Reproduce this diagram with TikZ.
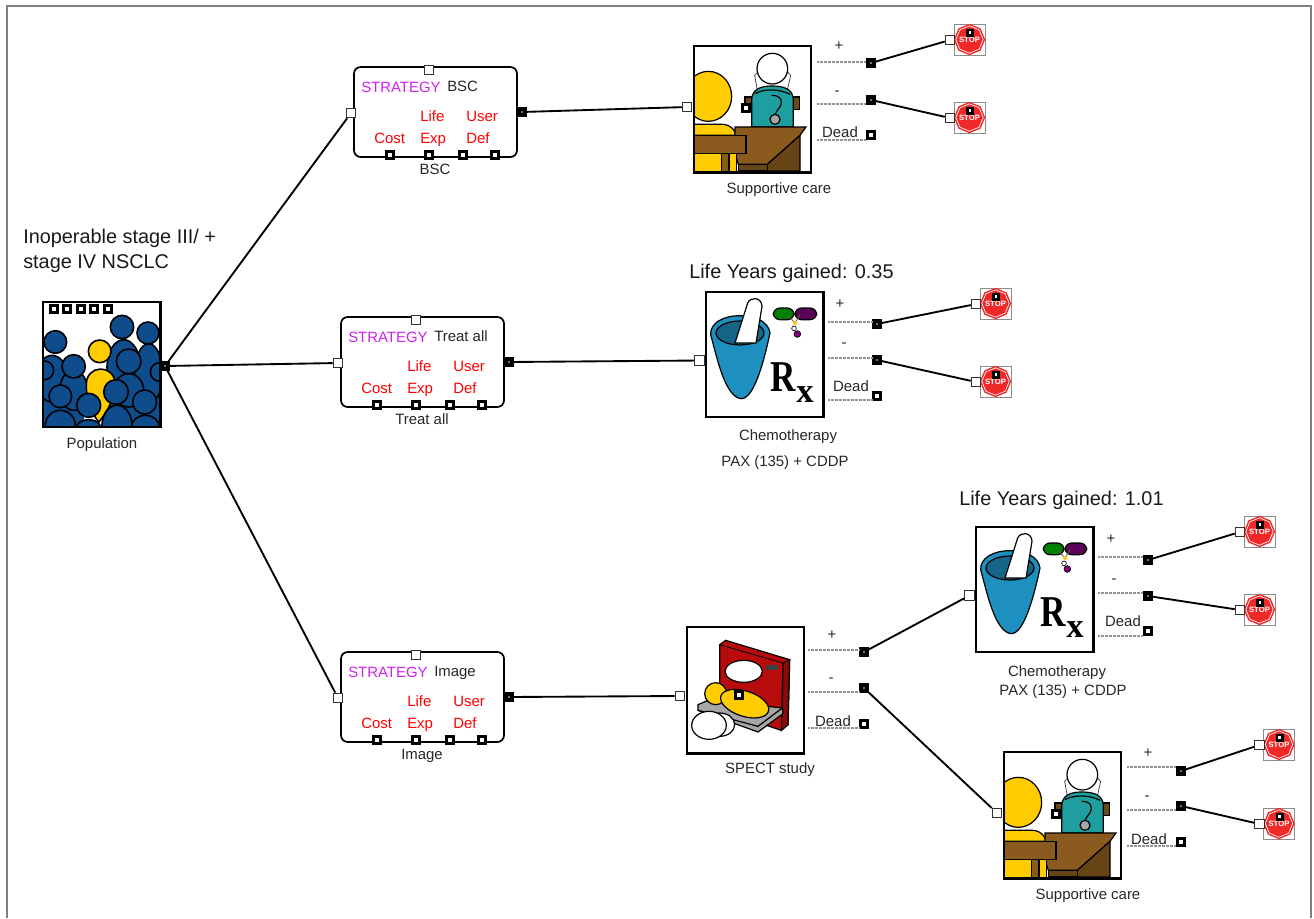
\documentclass[tikz,border=0pt]{standalone}
\usepackage{fontspec}
\setmainfont{Liberation Sans}
\newfontfamily\rxfont{Liberation Serif}
\usetikzlibrary{shapes.geometric}
\definecolor{popblue}{HTML}{0F4C8C}
\definecolor{ygold}{HTML}{FFCC00}
\definecolor{dbrown}{HTML}{8A5A1E}
\definecolor{dteal}{HTML}{1E9E9E}
\definecolor{cblue}{HTML}{1E90C0}
\definecolor{sred}{HTML}{F02828}
\definecolor{mag}{HTML}{D020F0}
\definecolor{dred}{HTML}{B80C0C}
\tikzset{
  x=0.75pt,y=-0.75pt,
  port/.style={rectangle,inner sep=0pt,anchor=center},
  pw/.style={port,minimum size=7pt,draw=black!80,line width=.9pt,fill=white},
  pb/.style={port,minimum size=5.2pt,draw=black,line width=2.2pt,fill=white},
  pk/.style={port,minimum size=4.6pt,draw=black,line width=2.6pt,fill=black!55},
  link/.style={draw=black,line width=1.4pt},
  txt/.style={inner sep=0pt,text=black!85,text height=8pt,text depth=2pt,font=\fontsize{11.2pt}{13pt}\selectfont},
  rtxt/.style={inner sep=0pt,anchor=west,text=red,text height=8pt,text depth=2pt,font=\fontsize{11.2pt}{13pt}\selectfont},
  big/.style={inner sep=0pt,anchor=west,text=black!90,text height=11pt,text depth=3pt,font=\fontsize{14.9pt}{16pt}\selectfont},
  stem/.style={draw=black!42,line width=1.3pt,dash pattern=on .75pt off .25pt},
  ic/.style={draw=black,line width=.9pt},
  icb/.style={draw=black,line width=1.2pt},
  zoomed/.style={x=.25pt,y=-.25pt},
  frm/.style={line width=2.2pt},
  pics/strat/.style 2 args={code={
    \draw[line width=1.3pt,rounded corners=5pt] (0,0) rectangle (163,90);
    \node[pw] (-top) at (75,3) {};
    \node[pw] (-in) at (-3,46) {};
    \node[pk] (-out) at (168,45) {};
    \node[pb] (-b1) at (36,88) {};
    \node[pb] (-b2) at (75,88) {};
    \node[pb] (-b3) at (109,88) {};
    \node[pb] (-b4) at (141,88) {};
    \node[rtxt,text=mag] (-s) at (7,21) {STRATEGY};
    \node[txt,anchor=west] (-n) at (93,20) {#1};
    \node[rtxt] (-l) at (66,50) {Life};
    \node[rtxt] (-u) at (112,50) {User};
    \node[rtxt] (-c) at (20,72) {Cost};
    \node[rtxt] (-e) at (66,72) {Exp};
    \node[rtxt] (-d) at (112,72) {Def};
    \node[txt] (-lab) at (81,103) {#2};
  }},
  pics/stopsign/.style={code={
    \draw[black!45,fill=white,line width=.6pt] (0,0) rectangle (31,31);
    \node[regular polygon,regular polygon sides=8,shape border rotate=22.5,fill=sred,inner sep=0pt,minimum size=23.5pt] (-oct) at (15.5,15.5) {};
    \node[regular polygon,regular polygon sides=8,shape border rotate=22.5,draw=white,line width=.5pt,inner sep=0pt,minimum size=20.5pt] (-ring) at (15.5,15.5) {};
    \node[inner sep=0pt,text=white,font=\bfseries\fontsize{5.8pt}{6pt}\selectfont] (-t) at (15.5,15.5) {STOP};
    \node[port,minimum size=4pt,draw=black,line width=2pt,fill=white] (-p) at (16,8.5) {};
    \node[pw] (-in) at (-4,16) {};
  }},
  pics/doctor/.style={code={
    \begin{scope}[shift={(-14,-25.67)},zoomed]
      \begin{scope}
      \clip (42,77) rectangle (393,457);
      \draw[ic,fill=ygold] (85,228) ellipse[x radius=70,y radius=75];
      \draw[ic,fill=ygold] (42,312) -- (130,312) .. controls (155,315) and (165,330) .. (168,345) -- (42,345) -- cycle;
      \end{scope}
      \draw[black!70,line width=.6pt] (232,210) -- (224,165) -- (238,150) (322,210) -- (332,165) -- (318,150);
      \draw[ic,fill=white] (277,145) circle[radius=46];
      \draw[ic,fill=dbrown!80!black] (195,230) rectangle (218,272) (338,230) rectangle (358,268);
      \draw[ic,fill=dteal] (215,320) -- (215,240) .. controls (215,205) and (245,197) .. (275,197) .. controls (310,197) and (340,205) .. (340,240) -- (340,320) -- cycle;
      \draw[ic] (225,220) .. controls (250,205) and (300,205) .. (330,222);
      \draw[ic] (275,225) .. controls (305,225) and (310,245) .. (298,262) .. controls (288,275) and (285,280) .. (285,285);
      \draw[ic,fill=black!35] (285,297) circle[radius=15];
      \draw[ic,fill=dbrown] (165,320) -- (378,320) -- (360,345) -- (262,432) -- (175,432) -- (165,400) -- cycle;
      \draw[ic,fill=dbrown!75!black] (262,432) -- (360,345) -- (360,452) -- (262,452) -- cycle;
      \draw[ic,fill=dbrown!75!black] (175,432) rectangle (262,452);
      \fill[ygold] (44,400) rectangle (170,455);
      \draw[ic,fill=dbrown] (125,400) rectangle (147,455);
      \draw[ic] (170,400) -- (170,455);
      \draw[ic,fill=dbrown] (42,345) rectangle (198,400);
      \draw[frm] (42,77) rectangle (393,457);
      \node[pb] (-inner) at (198,262) {};
    \end{scope}
    \node[pw] (-in) at (-7,61) {};
  }},
  pics/chemo/.style={code={
    \begin{scope}[shift={(-26,-12.33)},zoomed]
      \draw[ic,fill=cblue] (92,165) .. controls (110,230) and (135,355) .. (185,357) .. controls (225,355) and (255,230) .. (270,160) .. controls (265,125) and (225,108) .. (180,108) .. controls (130,108) and (90,130) .. (92,165) -- cycle;
      \draw[ic,fill=cblue!70!black] (180,160) ellipse[x radius=72,y radius=36];
      \draw[ic,fill=white] (165,190) -- (203,70) .. controls (212,50) and (245,52) .. (246,80) -- (228,190) -- cycle;
      \draw[ic,fill=green!50!black,rounded corners=5pt] (280,85) rectangle (342,120);
      \draw[ic,fill=violet!70!black,rounded corners=5pt] (345,85) rectangle (410,120);
      \draw[black!70!yellow,line width=.6pt] (322,105) -- (345,130) -- (360,105);
      \fill[ygold] (345,130) circle[radius=6];
      \draw[black,fill=white,line width=.5pt] (342,146) circle[radius=7];
      \draw[black,fill=violet,line width=.5pt] (352,163) circle[radius=10];
      \node[inner sep=0pt,anchor=base west,font=\rxfont\bfseries\fontsize{33pt}{34pt}\selectfont] (-rx) at (272,335) {\scalebox{.8}[1]{R}\raisebox{-8pt}{\fontsize{26pt}{26pt}\selectfont x}};
      \draw[frm] (78,37) rectangle (430,412);
    \end{scope}
    \node[pw] (-in) at (-6.5,68.5) {};
  }},
  pics/spect/.style={code={
    \begin{scope}[shift={(-17.33,-17.33)},zoomed]
      \draw[ic,fill=dred] (150,105) -- (168,92) -- (360,150) -- (355,345) -- (335,362) -- (150,300) -- cycle;
      \draw[ic,fill=dred!75!black] (340,160) -- (360,150) -- (355,345) -- (335,362) -- cycle;
      \draw[black,line width=.6pt] (150,105) -- (340,160);
      \fill[black!75] (290,165) rectangle (325,182);
      \draw[ic,fill=white] (222,185) ellipse[x radius=56,y radius=33];
      \draw[ic,fill=black!35] (85,285) -- (120,270) -- (338,295) -- (340,312) -- (265,367) -- (85,302) -- cycle;
      \draw[ic] (85,302) -- (265,350) -- (338,295);
      \draw[ic,fill=ygold] (138,252) circle[radius=33];
      \draw[ic,fill=ygold,rotate around={-18:(225,282)}] (225,282) ellipse[x radius=75,y radius=38];
      \draw[ic,fill=white] (150,345) ellipse[x radius=45,y radius=35];
      \draw[ic,fill=white] (118,347) ellipse[x radius=52,y radius=42];
      \draw[frm] (52,52) rectangle (403,432);
      \node[pb] (-inner) at (207,257) {};
    \end{scope}
    \node[pw] (-in) at (-7,69) {};
  }},
  pics/crowd/.style={code={
    \begin{scope}[shift={(-22.67,-11.67)},zoomed]
      \begin{scope}
      \clip (68,35) rectangle (420,410);
      \fill[white] (68,35) rectangle (420,410);
      \fill[popblue] (68,280) rectangle (190,410);
      \fill[popblue] (270,230) rectangle (420,410);
      \draw[icb,fill=popblue] (310,230) ellipse[x radius=50,y radius=82];
      \draw[icb,fill=popblue] (385,250) ellipse[x radius=42,y radius=90];
      \draw[icb,fill=popblue] (305,110) circle[radius=35];
      \draw[icb,fill=popblue] (383,128) circle[radius=33];
      \draw[icb,fill=popblue] (95,265) ellipse[x radius=48,y radius=70];
      \draw[icb,fill=popblue] (160,300) ellipse[x radius=42,y radius=60];
      \draw[icb,fill=popblue] (105,155) circle[radius=34];
      \draw[icb,fill=popblue] (160,228) circle[radius=35];
      \draw[icb,fill=popblue] (72,240) circle[radius=28];
      \draw[icb,fill=ygold] (198,280) .. controls (200,225) and (275,220) .. (285,275) .. controls (290,320) and (250,380) .. (235,395) .. controls (215,370) and (195,320) .. (198,280) -- cycle;
      \draw[icb,fill=ygold] (238,183) circle[radius=34];
      \draw[icb,fill=popblue] (325,300) ellipse[x radius=45,y radius=50];
      \draw[icb,fill=popblue] (325,213) circle[radius=37];
      \draw[icb,fill=popblue] (418,245) circle[radius=28];
      \draw[icb,fill=popblue] (120,318) circle[radius=34];
      \draw[icb,fill=popblue] (120,405) ellipse[x radius=45,y radius=45];
      \draw[icb,fill=popblue] (205,345) circle[radius=36];
      \draw[icb,fill=popblue] (205,410) ellipse[x radius=35,y radius=22];
      \draw[icb,fill=popblue] (375,410) ellipse[x radius=42,y radius=35];
      \draw[icb,fill=popblue] (373,335) circle[radius=36];
      \draw[icb,fill=popblue] (290,405) ellipse[x radius=45,y radius=60];
      \draw[icb,fill=popblue] (287,305) circle[radius=37];
      \end{scope}
      \draw[frm] (68,35) rectangle (420,410);
      \foreach \n/\a in {1/100,2/141,3/181,4/222,5/262}
        \node[pb] (-t\n) at (\a,57) {};
    \end{scope}
  }},
}
\begin{document}
\begin{tikzpicture}
\useasboundingbox (0,0) rectangle (1314,918);
\draw[black!50,line width=1.4pt] (7,918) -- (7,6) -- (1311,6) -- (1311,918);

% population
\pic (pop) at (43,302) {crowd};
\node[pk] (popout) at (165,366) {};
\node[txt] (poplab) at (102,444) {Population};
\node[big] (t1) at (23,238) {Inoperable stage III/ +};
\node[big] (t2) at (23,263) {stage IV NSCLC};

% strategies
\pic (bsc) at (354,67) {strat={BSC}{BSC}};
\pic (tra) at (341,317) {strat={Treat all}{Treat all}};
\pic (img) at (341,652) {strat={Image}{Image}};

% icons
\pic (sc1) at (694,46) {doctor};
\pic (ch1) at (706,292) {chemo};
\pic (sp) at (687,627) {spect};
\pic (ch2) at (976,527) {chemo};
\pic (sc2) at (1004,752) {doctor};

% outcome branches: stop signs
\pic (s1) at (954,24) {stopsign};
\pic (s2) at (954,102) {stopsign};
\pic (s3) at (980,288) {stopsign};
\pic (s4) at (980,366) {stopsign};
\pic (s5) at (1244,516) {stopsign};
\pic (s6) at (1244,594) {stopsign};
\pic (s7) at (1263.5,729) {stopsign};
\pic (s8) at (1263.5,808) {stopsign};

% outcome ports
\node[pk] (a1) at (871,63) {}; \node[pk] (a2) at (871,100) {}; \node[pb] (a3) at (871,135) {};
\node[pk] (b1) at (877,324) {}; \node[pk] (b2) at (877,360) {}; \node[pb] (b3) at (877,396) {};
\node[pk] (c1) at (864,652) {}; \node[pk] (c2) at (864,688) {}; \node[pb] (c3) at (864,724) {};
\node[pk] (d1) at (1148,560) {}; \node[pk] (d2) at (1148,596) {}; \node[pb] (d3) at (1148,631) {};
\node[pk] (e1) at (1181,771) {}; \node[pk] (e2) at (1181,806) {}; \node[pb] (e3) at (1181,842) {};

% stems
\coordinate (a1s) at (817,62); \coordinate (a2s) at (817,104); \coordinate (a3s) at (817,140);
\coordinate (b1s) at (828,322); \coordinate (b2s) at (828,358); \coordinate (b3s) at (828,400);
\coordinate (c1s) at (808,650); \coordinate (c2s) at (808,692); \coordinate (c3s) at (808,728);
\coordinate (d1s) at (1098,557); \coordinate (d2s) at (1098,593); \coordinate (d3s) at (1098,636);
\coordinate (e1s) at (1127,767); \coordinate (e2s) at (1127,810); \coordinate (e3s) at (1127,846);
\foreach \n in {a,b,c,d,e}{
  \foreach \k in {1,2,3}
    \draw[stem] (\n\k s) -- (\n\k.west |- \n\k s);
}

% labels
\node[txt] (la1) at (839,46) {+};  \node[txt] (la2) at (837,91) {-};  \node[txt] (la3) at (840,133) {Dead};
\node[txt] (lb1) at (840,304) {+}; \node[txt] (lb2) at (844,343) {-}; \node[txt] (lb3) at (851,387) {Dead};
\node[txt] (lc1) at (832,635) {+}; \node[txt] (lc2) at (831,678) {-}; \node[txt] (lc3) at (833,722) {Dead};
\node[txt] (ld1) at (1111,539) {+};\node[txt] (ld2) at (1114,579) {-};\node[txt] (ld3) at (1123,622) {Dead};
\node[txt] (le1) at (1148,753) {+};\node[txt] (le2) at (1147,796) {-};\node[txt] (le3) at (1149,840) {Dead};

\node[txt] (sc1l) at (779,189) {Supportive care};
\node[txt] (sc2l) at (1088,895) {Supportive care};
\node[txt] (ch1l) at (788,436) {Chemotherapy};
\node[txt] (ch1p) at (785,462) {PAX (135) + CDDP};
\node[txt] (ch2l) at (1057,672) {Chemotherapy};
\node[txt] (ch2p) at (1063,691) {PAX (135) + CDDP};
\node[txt] (spl) at (770,769) {SPECT study};
\node[big] (g1) at (689,273) {Life Years gained: 0.35};
\node[big] (g2) at (959,500) {Life Years gained: 1.01};

% connectors
\draw[link] (popout) -- (bsc-in);
\draw[link] (popout) -- (tra-in);
\draw[link] (popout) -- (img-in);
\draw[link] (bsc-out) -- (sc1-in);
\draw[link] (tra-out) -- (ch1-in);
\draw[link] (img-out) -- (sp-in);
\draw[link] (a1) -- (s1-in);
\draw[link] (a2) -- (s2-in);
\draw[link] (b1) -- (s3-in);
\draw[link] (b2) -- (s4-in);
\draw[link] (c1) -- (ch2-in);
\draw[link] (c2) -- (sc2-in);
\draw[link] (d1) -- (s5-in);
\draw[link] (d2) -- (s6-in);
\draw[link] (e1) -- (s7-in);
\draw[link] (e2) -- (s8-in);
\end{tikzpicture}
\end{document}
